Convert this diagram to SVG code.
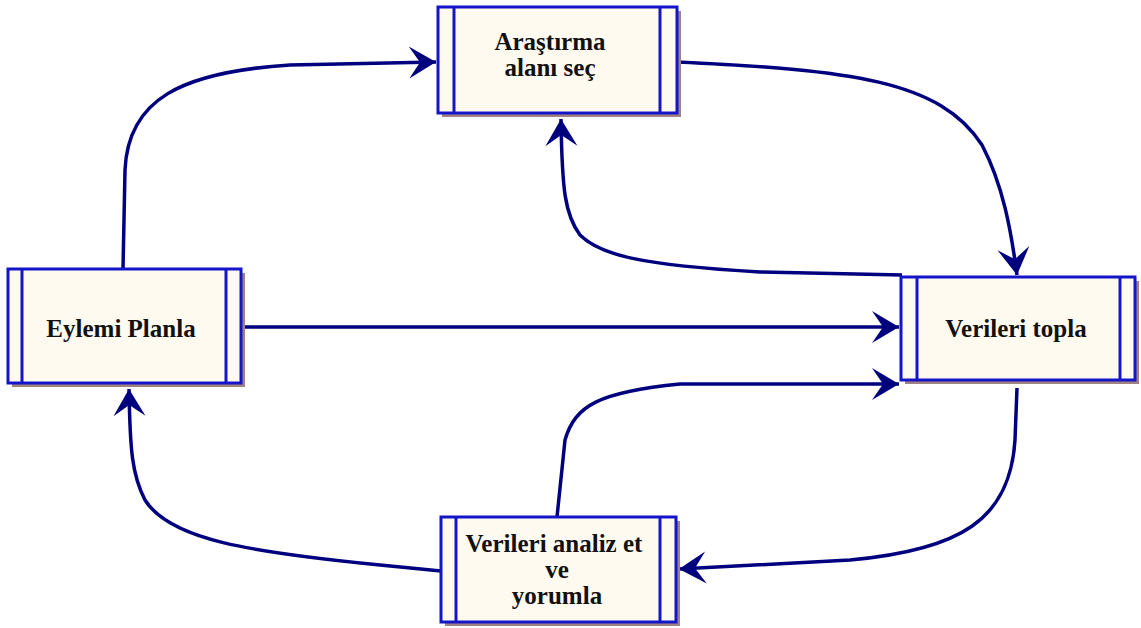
<svg xmlns="http://www.w3.org/2000/svg" width="1141" height="628" viewBox="0 0 1141 628">
<style>
.shadow{fill:#a08282;stroke:none}
.box{fill:#fffaf0;stroke:#1414c8;stroke-width:3}
.bar{stroke:#1414c8;stroke-width:3}
.lbl{font-family:"Liberation Serif","Times New Roman",serif;font-weight:bold;font-size:25px;fill:#111;text-anchor:middle}
.conn{fill:none;stroke:#00007f;stroke-width:3.5}
</style>
<defs>
<marker id="arr" markerUnits="userSpaceOnUse" markerWidth="40" markerHeight="40" viewBox="-30 -20 32 40" refX="0" refY="0" orient="auto" overflow="visible">
<path d="M0,0 L-27,-16 L-16,0 L-27,16 Z" fill="#00007f"/>
</marker>
</defs>
<rect width="1141" height="628" fill="#fff"/>
<g id="connectors">
<path class="conn" d="M123,269 L125,170 C128,100 180,72 290,65 L436,62" marker-end="url(#arr)"/>
<path class="conn" d="M677,62 C850,70 940,80 982,145 C1003,185 1011,230 1017,275" marker-end="url(#arr)"/>
<path class="conn" d="M902,275 L760,272 C640,265 600,255 580,235 C565,215 562,190 561,119" marker-end="url(#arr)"/>
<path class="conn" d="M241,327 L899,327" marker-end="url(#arr)"/>
<path class="conn" d="M557,517 L565,440 C575,405 600,392 680,384 L899,384" marker-end="url(#arr)"/>
<path class="conn" d="M1017,388 L1015,440 C1010,520 960,550 850,560 L679,569" marker-end="url(#arr)"/>
<path class="conn" d="M441,571 L380,565 C250,552 170,540 145,500 C132,475 130,450 129,389" marker-end="url(#arr)"/>
</g>
<g id="node-arastirma">
<rect class="shadow" x="442" y="11" width="239" height="106"/>
<rect class="box" x="438" y="7" width="239" height="106"/>
<line class="bar" x1="454" y1="7" x2="454" y2="113"/>
<line class="bar" x1="660" y1="7" x2="660" y2="113"/>
<text class="lbl" x="550" y="50">Araştırma</text>
<text class="lbl" x="550" y="76">alanı seç</text>
</g>
<g id="node-eylemi">
<rect class="shadow" x="12" y="273" width="233" height="114"/>
<rect class="box" x="8" y="269" width="233" height="114"/>
<line class="bar" x1="22" y1="269" x2="22" y2="383"/>
<line class="bar" x1="226" y1="269" x2="226" y2="383"/>
<text class="lbl" x="121" y="337">Eylemi Planla</text>
</g>
<g id="node-topla">
<rect class="shadow" x="905" y="281" width="234" height="103"/>
<rect class="box" x="901" y="277" width="234" height="103"/>
<line class="bar" x1="917" y1="277" x2="917" y2="380"/>
<line class="bar" x1="1120" y1="277" x2="1120" y2="380"/>
<text class="lbl" x="1016" y="337">Verileri topla</text>
</g>
<g id="node-analiz">
<rect class="shadow" x="445" y="521" width="235" height="105"/>
<rect class="box" x="441" y="517" width="235" height="105"/>
<line class="bar" x1="456" y1="517" x2="456" y2="622"/>
<line class="bar" x1="660" y1="517" x2="660" y2="622"/>
<text class="lbl" x="554" y="552">Verileri analiz et</text>
<text class="lbl" x="557" y="578">ve</text>
<text class="lbl" x="557" y="604">yorumla</text>
</g>
</svg>
